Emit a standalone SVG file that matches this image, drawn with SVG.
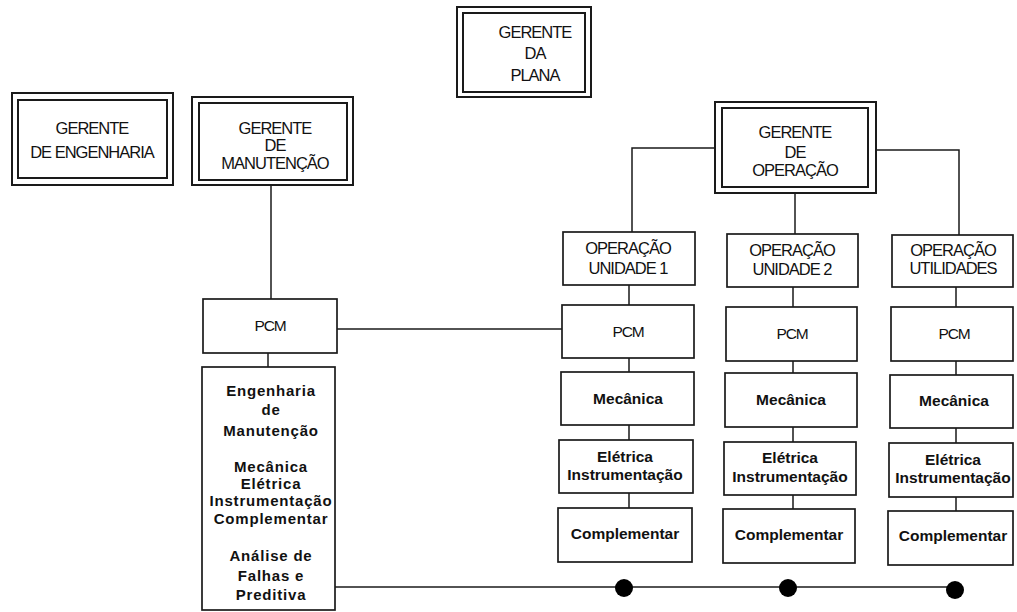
<svg xmlns="http://www.w3.org/2000/svg" width="1017" height="612" viewBox="0 0 1017 612">
  <style>
    .bx { fill: #fff; stroke: #1a1a1a; stroke-width: 1.7; }
    .bx2 { fill: none; stroke: #1a1a1a; stroke-width: 2; }
    .ln { fill: none; stroke: #1a1a1a; stroke-width: 1.5; }
    .cap { font-family: "Liberation Sans", Arial, sans-serif; font-size: 16.5px; letter-spacing: -1px; fill: #111; text-anchor: middle; }
    .pcm { font-family: "Liberation Sans", Arial, sans-serif; font-size: 15.5px; letter-spacing: -1.2px; fill: #111; text-anchor: middle; }
    .bd { font-family: "Liberation Sans", Arial, sans-serif; font-size: 15.5px; font-weight: bold; fill: #111; text-anchor: middle; }
    .bdw { font-family: "Liberation Sans", Arial, sans-serif; font-size: 15px; font-weight: bold; letter-spacing: 0.8px; fill: #111; text-anchor: middle; }
    .dot { fill: #000; }
  </style>
  <rect width="1017" height="612" fill="#fff"/>

  <!-- connectors -->
  <g id="connectors">
    <path class="ln" d="M271,185 V299"/>
    <path class="ln" d="M268,353 V367"/>
    <path class="ln" d="M337,329 H562"/>
    <path class="ln" d="M715,148 H632 V232"/>
    <path class="ln" d="M795,193 V234"/>
    <path class="ln" d="M876,150 H959 V235"/>
    <!-- unidade 1 column -->
    <path class="ln" d="M629,285 V305 M629,358 V372 M629,425 V440 M629,493 V508"/>
    <!-- unidade 2 column -->
    <path class="ln" d="M793,287 V307 M793,361 V373 M793,427 V442 M793,495 V509"/>
    <!-- utilidades column -->
    <path class="ln" d="M956,287 V307 M956,361 V375 M956,428 V443 M956,497 V511"/>
    <!-- bottom bus -->
    <path class="ln" d="M333,587 H955"/>
    <circle class="dot" cx="624" cy="588" r="9"/>
    <circle class="dot" cx="788" cy="588" r="9"/>
    <circle class="dot" cx="955" cy="590" r="9"/>
  </g>

  <g id="gerente-plana">
    <rect class="bx2" x="457" y="7" width="134" height="90"/>
    <rect class="bx2" x="463" y="13" width="122" height="79"/>
    <text class="cap" x="535" y="38">GERENTE</text>
    <text class="cap" x="535" y="59">DA</text>
    <text class="cap" x="535" y="81">PLANA</text>
  </g>

  <g id="gerente-engenharia">
    <rect class="bx2" x="12" y="93" width="161" height="92"/>
    <rect class="bx2" x="18" y="100" width="149" height="78"/>
    <text class="cap" x="92" y="134">GERENTE</text>
    <text class="cap" x="92" y="158">DE ENGENHARIA</text>
  </g>

  <g id="gerente-manutencao">
    <rect class="bx2" x="192" y="97" width="161" height="88"/>
    <rect class="bx2" x="199" y="103" width="148" height="77"/>
    <text class="cap" x="275" y="134">GERENTE</text>
    <text class="cap" x="275" y="151">DE</text>
    <text class="cap" x="275" y="169">MANUTENÇÃO</text>
  </g>

  <g id="gerente-operacao">
    <rect class="bx2" x="715" y="102" width="161" height="91"/>
    <rect class="bx2" x="722" y="108" width="146" height="79"/>
    <text class="cap" x="795" y="138">GERENTE</text>
    <text class="cap" x="795" y="158">DE</text>
    <text class="cap" x="795" y="176">OPERAÇÃO</text>
  </g>

  <g id="pcm-manutencao">
    <rect class="bx" x="203" y="299" width="134" height="54"/>
    <text class="pcm" x="270" y="331">PCM</text>
  </g>

  <g id="engenharia-manutencao">
    <rect class="bx" x="202" y="367" width="133" height="243"/>
    <text class="bdw" x="271" y="396">Engenharia</text>
    <text class="bdw" x="271" y="415">de</text>
    <text class="bdw" x="271" y="436">Manutenção</text>
    <text class="bdw" x="271" y="472">Mecânica</text>
    <text class="bdw" x="271" y="489">Elétrica</text>
    <text class="bdw" x="271" y="506">Instrumentação</text>
    <text class="bdw" x="271" y="524">Complementar</text>
    <text class="bdw" x="271" y="561">Análise de</text>
    <text class="bdw" x="271" y="581">Falhas e</text>
    <text class="bdw" x="271" y="600">Preditiva</text>
  </g>

  <!-- operação unidade 1 -->
  <g id="op-unidade-1">
    <rect class="bx" x="563" y="232" width="132" height="53"/>
    <text class="cap" x="628" y="254">OPERAÇÃO</text>
    <text class="cap" x="628" y="274">UNIDADE 1</text>
  </g>
  <g id="u1-pcm">
    <rect class="bx" x="562" y="305" width="132" height="53"/>
    <text class="pcm" x="628" y="337">PCM</text>
  </g>
  <g id="u1-mecanica">
    <rect class="bx" x="561" y="372" width="133" height="53"/>
    <text class="bd" x="628" y="404">Mecânica</text>
  </g>
  <g id="u1-eletrica">
    <rect class="bx" x="559" y="440" width="134" height="53"/>
    <text class="bd" x="625" y="462">Elétrica</text>
    <text class="bd" x="625" y="480">Instrumentação</text>
  </g>
  <g id="u1-complementar">
    <rect class="bx" x="558" y="508" width="134" height="54"/>
    <text class="bd" x="625" y="539">Complementar</text>
  </g>

  <!-- operação unidade 2 -->
  <g id="op-unidade-2">
    <rect class="bx" x="727" y="234" width="131" height="53"/>
    <text class="cap" x="792" y="256">OPERAÇÃO</text>
    <text class="cap" x="792" y="275">UNIDADE 2</text>
  </g>
  <g id="u2-pcm">
    <rect class="bx" x="726" y="307" width="131" height="54"/>
    <text class="pcm" x="792" y="339">PCM</text>
  </g>
  <g id="u2-mecanica">
    <rect class="bx" x="725" y="373" width="132" height="54"/>
    <text class="bd" x="791" y="405">Mecânica</text>
  </g>
  <g id="u2-eletrica">
    <rect class="bx" x="724" y="442" width="132" height="53"/>
    <text class="bd" x="790" y="463">Elétrica</text>
    <text class="bd" x="790" y="482">Instrumentação</text>
  </g>
  <g id="u2-complementar">
    <rect class="bx" x="723" y="509" width="132" height="54"/>
    <text class="bd" x="789" y="540">Complementar</text>
  </g>

  <!-- operação utilidades -->
  <g id="op-utilidades">
    <rect class="bx" x="892" y="235" width="121" height="52"/>
    <text class="cap" x="953" y="256">OPERAÇÃO</text>
    <text class="cap" x="953" y="274">UTILIDADES</text>
  </g>
  <g id="ut-pcm">
    <rect class="bx" x="891" y="307" width="122" height="54"/>
    <text class="pcm" x="954" y="339">PCM</text>
  </g>
  <g id="ut-mecanica">
    <rect class="bx" x="890" y="375" width="123" height="53"/>
    <text class="bd" x="954" y="406">Mecânica</text>
  </g>
  <g id="ut-eletrica">
    <rect class="bx" x="889" y="443" width="124" height="54"/>
    <text class="bd" x="953" y="465">Elétrica</text>
    <text class="bd" x="953" y="483">Instrumentação</text>
  </g>
  <g id="ut-complementar">
    <rect class="bx" x="888" y="511" width="125" height="54"/>
    <text class="bd" x="953" y="541">Complementar</text>
  </g>
</svg>
